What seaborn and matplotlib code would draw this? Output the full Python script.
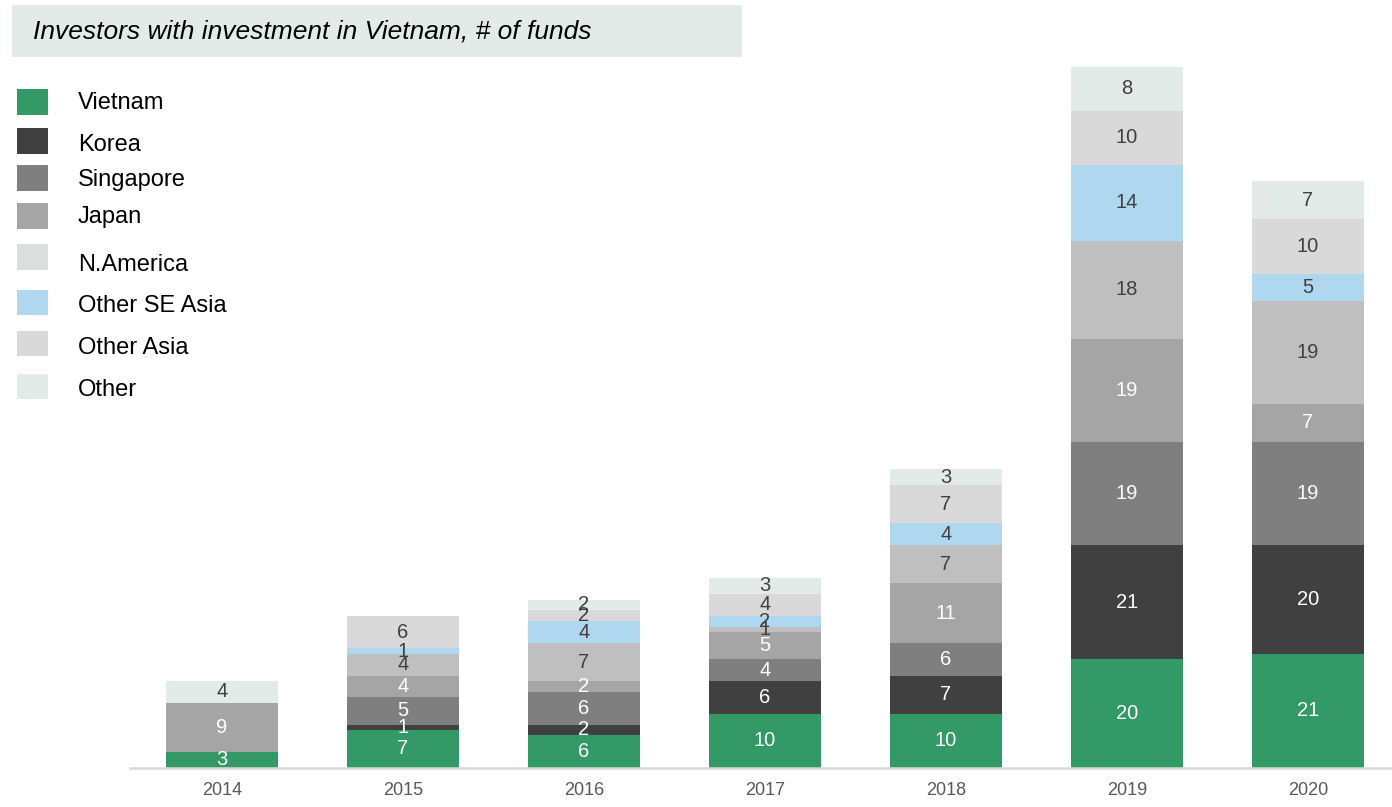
import matplotlib
matplotlib.use("Agg")
import matplotlib.pyplot as plt
from matplotlib.patches import Rectangle
import numpy as np
import pandas as pd
import seaborn as sns

# ---------------- data ----------------
years = ["2014", "2015", "2016", "2017", "2018", "2019", "2020"]
series = ["Vietnam", "Korea", "Singapore", "Japan", "N.America",
          "Other SE Asia", "Other Asia", "Other"]
vietnam      = [3, 7, 6, 10, 10, 20, 21]
korea        = [0, 1, 2, 6, 7, 21, 20]
singapore    = [0, 5, 6, 4, 6, 19, 19]
japan        = [9, 4, 2, 5, 11, 19, 7]
n_america    = [0, 4, 7, 1, 7, 18, 19]
other_se_asia = [0, 1, 4, 2, 4, 14, 5]
other_asia   = [0, 6, 2, 4, 7, 10, 10]
other        = [4, 0, 2, 3, 3, 8, 7]
values = [vietnam, korea, singapore, japan, n_america, other_se_asia, other_asia, other]

bar_colors = ["#339966", "#404040", "#7f7f7f", "#a5a5a5", "#bfbfbf",
              "#afd7ef", "#d9d9d9", "#e2ebe8"]
legend_colors = ["#339966", "#404040", "#7f7f7f", "#a5a5a5", "#dadedd",
                 "#afd7ef", "#d9d9d9", "#e2ebe8"]
label_colors = ["white", "white", "white", "white", "#404040",
                "#404040", "#404040", "#404040"]

df = pd.DataFrame({"year": years})
for name, vals in zip(series, values):
    df[name] = vals

# ---------------- figure ----------------
sns.set_style("white")
plt.rcParams["font.family"] = ["Liberation Sans", "DejaVu Sans"]

W, H = 1392, 807
fig = plt.figure(figsize=(W / 100, H / 100), dpi=100)
ax = fig.add_axes([130 / W, 39 / H, 1 - 130 / W, (768 - 61.6) / H])

bottom = np.zeros(len(years))
for name, col, lcol in zip(series, bar_colors, label_colors):
    vals = df[name].to_numpy(dtype=float)
    n_before = len(ax.containers)
    sns.barplot(data=df, x="year", y=name, color=col, bottom=bottom,
                width=0.62, ax=ax, saturation=1, linewidth=0, order=years)
    cont = ax.containers[n_before]
    labels = [str(int(v)) if v > 0 else "" for v in vals]
    ax.bar_label(cont, labels=labels, label_type="center",
                 color=lcol, fontsize=14.5)
    bottom = bottom + vals

ax.set_xlim(-0.508, 6.464)
ax.set_ylim(0, 130)
ax.set_xlabel("")
ax.set_ylabel("")
ax.set_yticks([])
for s in ["top", "right", "left"]:
    ax.spines[s].set_visible(False)
ax.spines["bottom"].set_color("#d9d9d9")
ax.spines["bottom"].set_linewidth(1.8)
ax.tick_params(axis="x", length=0, pad=10, labelsize=13, labelcolor="#595959")

# ---------------- title box ----------------
fig.patches.append(Rectangle((12 / W, (H - 57) / H), 730 / W, 52 / H,
                             transform=fig.transFigure, facecolor="#e2ebe8",
                             edgecolor="none", zorder=0))
fig.text(33 / W, (H - 32) / H, "Investors with investment in Vietnam, # of funds",
         fontsize=19, fontstyle="italic", va="center", ha="left", color="black")

# ---------------- legend ----------------
sq_centers = [102, 141, 178, 216, 257, 302, 343, 387]
txt_centers = [103, 145, 180, 217, 265, 306, 348, 390]
for name, col, yc, yt in zip(series, legend_colors, sq_centers, txt_centers):
    fig.patches.append(Rectangle((17 / W, (H - yc - 12.5) / H), 31 / W, 25 / H,
                                 transform=fig.transFigure, facecolor=col,
                                 edgecolor="none"))
    fig.text(78 / W, (H - yt) / H, name, fontsize=17, va="center",
             ha="left", color="black")

fig.savefig("out.png", dpi=100)
